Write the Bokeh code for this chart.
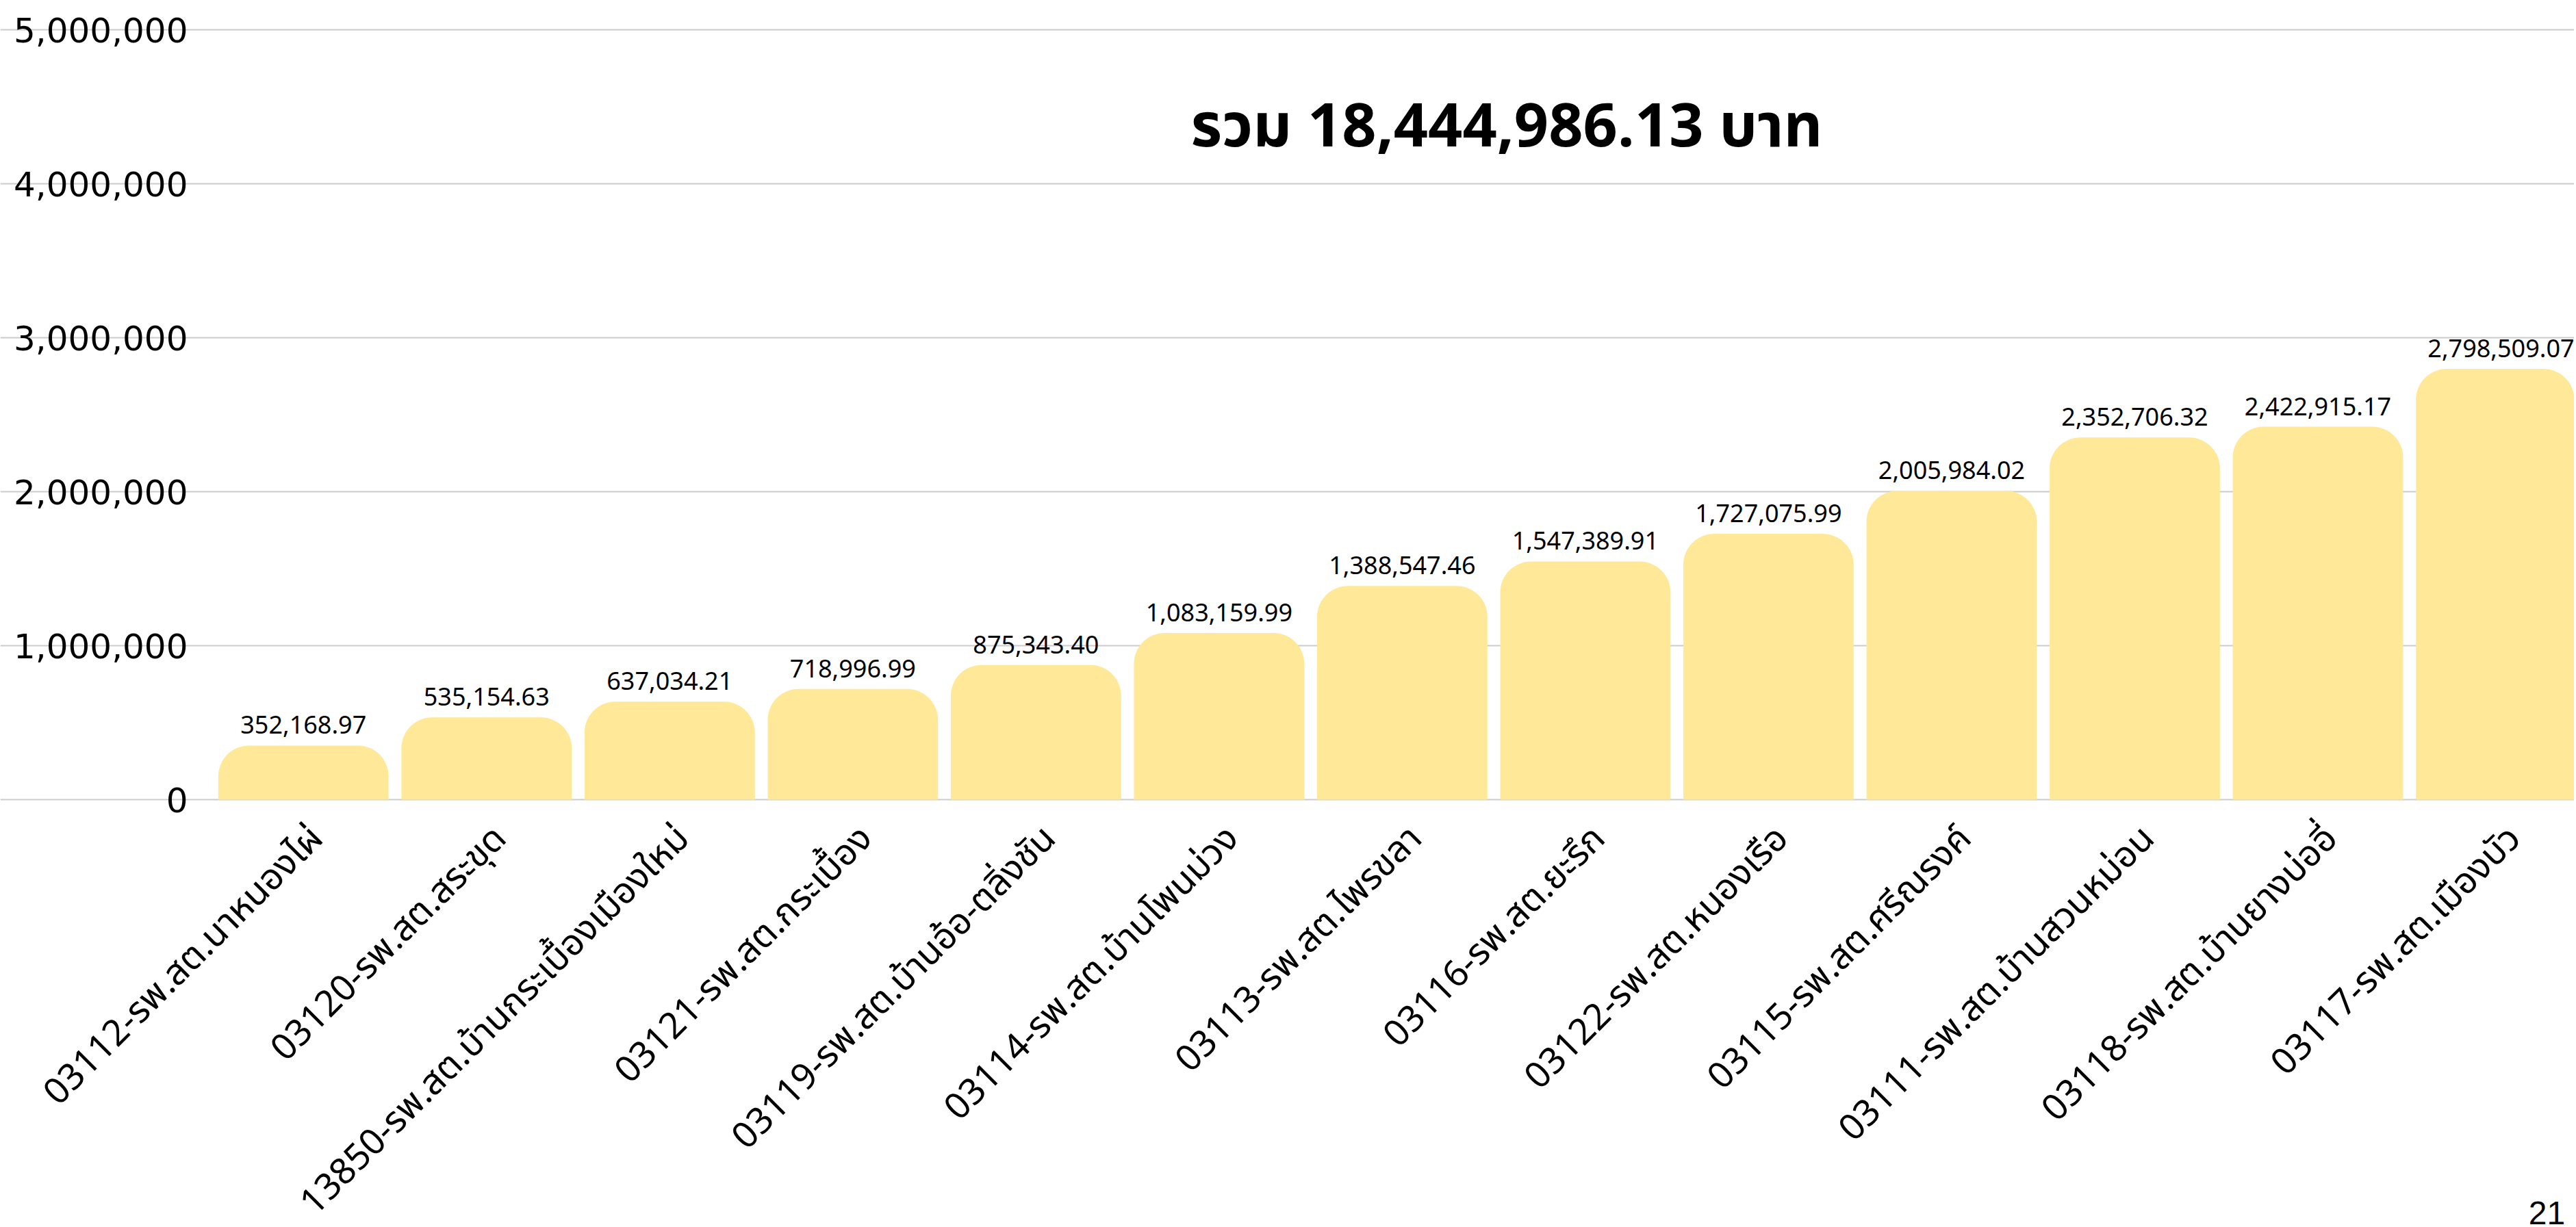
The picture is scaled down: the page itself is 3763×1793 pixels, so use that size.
import math
from bokeh.plotting import figure
from bokeh.models import ColumnDataSource, Range1d, FixedTicker, NumeralTickFormatter, LabelSet, Label
from bokeh.core.properties import value
from bokeh.embed import file_html
from bokeh.resources import INLINE

categories = [
    "03112-รพ.สต.นาหนองไผ่",
    "03120-รพ.สต.สระขุด",
    "13850-รพ.สต.บ้านกระเบื้องเมืองใหม่",
    "03121-รพ.สต.กระเบื้อง",
    "03119-รพ.สต.บ้านอ้อ-ตลิ่งชัน",
    "03114-รพ.สต.บ้านโพนม่วง",
    "03113-รพ.สต.ไพรขลา",
    "03116-รพ.สต.ยะรึก",
    "03122-รพ.สต.หนองเรือ",
    "03115-รพ.สต.ศรีณรงค์",
    "03111-รพ.สต.บ้านสวนหม่อน",
    "03118-รพ.สต.บ้านยางบ่ออี่",
    "03117-รพ.สต.เมืองบัว",
]
values = [352168.97, 535154.63, 637034.21, 718996.99, 875343.40, 1083159.99,
          1388547.46, 1547389.91, 1727075.99, 2005984.02, 2352706.32,
          2422915.17, 2798509.07]
y_ticks = [0, 1000000, 2000000, 3000000, 4000000, 5000000]
total_text = "รวม 18,444,986.13 บาท"
page_number = "21"

THAI = "'Noto Sans Thai', 'Noto Sans'"

idx = list(range(len(categories)))
src = ColumnDataSource(dict(
    x=idx,
    value=values,
    base=[0] * len(values),
    name=categories,
    vlabel=[f"{v:,.2f}" for v in values],
))

p = figure(width=3760, height=1790, output_backend="svg", toolbar_location=None,
           x_range=Range1d(-1.655, 12.40), y_range=Range1d(-2764400, 5192400),
           min_border_left=0, min_border_right=0, min_border_top=0,
           min_border_bottom=0)
p.outline_line_color = None
p.background_fill_color = "white"
p.border_fill_color = "white"

p.vbar(x="x", top="value", width=0.93, source=src, fill_color="#FFE999",
       line_color=None, border_radius=(45, 45, 0, 0))

p.text(x="x", y="value", text="vlabel", source=src, text_align="center",
       text_baseline="alphabetic", y_offset=-30, text_font=value(THAI),
       text_font_size="36px", text_color="black")

names = LabelSet(x="x", y="base", text="name", source=src, angle=math.pi / 4,
                 text_align="right", text_baseline="top", x_offset=-8, y_offset=-20,
                 text_font=value(THAI), text_font_size="53px", text_color="black")
p.add_layout(names)

p.xaxis.visible = False
p.xgrid.visible = False

p.yaxis.fixed_location = -0.5
p.yaxis.ticker = FixedTicker(ticks=y_ticks)
p.yaxis.formatter = NumeralTickFormatter(format="0,0")
p.yaxis.axis_line_color = None
p.yaxis.major_tick_line_color = None
p.yaxis.minor_tick_line_color = None
p.yaxis.major_label_standoff = 29
p.yaxis.major_label_text_font = "DejaVu Sans"
p.yaxis.major_label_text_font_size = "50px"
p.yaxis.major_label_text_color = "black"
p.ygrid.ticker = FixedTicker(ticks=y_ticks)
p.ygrid.bounds = (-0.5, 12.40)
p.ygrid.grid_line_color = "#cccccc"
p.ygrid.grid_line_width = 2

p.add_layout(Label(x=6.57, y=4360000, text=total_text, text_align="center",
                   text_baseline="middle", text_font=THAI,
                   text_font_style="bold", text_font_size="88px", text_color="black"))

p.add_layout(Label(x=12.35, y=-2613000, text=page_number, text_align="right",
                   text_baseline="top", text_font="Liberation Sans",
                   text_font_size="48px", text_color="black"))

open("out.html", "w").write(file_html(p, INLINE))
